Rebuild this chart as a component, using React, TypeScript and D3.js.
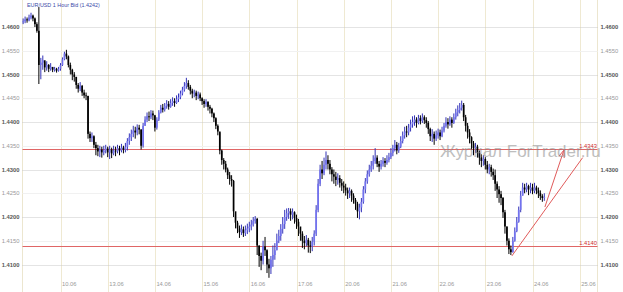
import React from "react";
import * as d3 from "d3";

const W = 623;
const H = 292;

// Prices are stored as pips above BASE (1.4000)
const BASE = 1.4;
const PIP = 0.0001;
const START_HOUR = -19; // first bar: 19 hours before 10.06 00:00
const FIRST_OPEN = 610;

const title = "EUR/USD 1 Hour Bid (1.4242)";
const watermark = "Журнал ForTrader.ru";

const dayLabels = ["10.06", "13.06", "14.06", "15.06", "16.06", "17.06", "20.06", "21.06", "22.06", "23.06", "24.06", "25.06"];
const yTicks = [1.41, 1.415, 1.42, 1.425, 1.43, 1.435, 1.44, 1.445, 1.45, 1.455, 1.46];

const closes = [
  612, 616, 614, 620, 624, 618, 606, 592, 520, 525, 530, 515, 520, 512, 516, 510, 512, 508, 512,
  520, 532, 544, 538, 520, 510, 500, 495, 478, 470, 476, 462, 456, 455, 375, 366, 370, 352, 345, 338, 342, 336, 340, 344,
  336, 342, 334, 340, 338, 345, 340, 346, 342, 348, 360, 368, 375, 382, 378, 388, 384, 350, 392, 405, 412, 410, 418, 414,
  388, 405, 420, 430, 426, 434, 438, 432, 440, 444, 440, 448, 452, 460, 468, 476, 482, 474, 466, 460, 462, 455, 458, 450,
  444, 438, 442, 432, 428, 418, 408, 392, 380, 340, 320, 312, 300, 288, 280, 276, 212, 188, 176, 168, 174, 166, 172, 176,
  180, 184, 192, 196, 140, 118, 108, 138, 130, 100, 92, 110, 120, 130, 150, 160, 175, 185, 200, 208, 212, 205, 210, 198,
  190, 180, 165, 150, 145, 152, 140, 138, 148, 165, 215, 270, 300, 292, 310, 320, 312, 300, 290, 285, 278, 282, 272, 266,
  262, 256, 250, 255, 245, 236, 228, 212, 220, 232, 258, 275, 290, 300, 308, 318, 325, 312, 306, 312, 318, 314, 320, 326,
  335, 345, 352, 340, 348, 360, 372, 380, 378, 388, 395, 400, 405, 398, 408, 402, 410, 404, 398, 385, 370, 375, 365, 372,
  378, 370, 382, 392, 400, 395, 405, 398, 410, 420, 425, 430, 436, 410, 392, 378, 368, 355, 345, 348, 335, 325, 318, 322,
  310, 300, 305, 295, 288, 270, 258, 248, 240, 210, 180, 150, 132, 126, 150, 170, 190, 215, 245, 262, 258, 265, 258, 262,
  255, 262, 256, 250, 244, 240, 242,
];
const highs = [
  618, 622, 620, 626, 630, 626, 620, 610, 642, 535, 540, 526, 528, 522, 524, 515, 516, 514, 516,
  524, 536, 548, 552, 540, 525, 512, 505, 495, 482, 484, 478, 468, 462, 455, 380, 378, 372, 358, 352, 350, 348, 350, 352,
  348, 350, 346, 350, 348, 352, 350, 354, 350, 356, 366, 376, 384, 392, 390, 395, 394, 385, 398, 412, 420, 422, 425, 424,
  415, 410, 425, 436, 438, 440, 446, 444, 448, 452, 450, 456, 460, 466, 474, 484, 493, 488, 478, 470, 468, 466, 464, 462,
  452, 448, 448, 444, 436, 430, 420, 410, 395, 378, 342, 324, 318, 304, 295, 288, 278, 206, 192, 182, 184, 180, 182, 186,
  190, 194, 200, 202, 198, 140, 125, 150, 158, 132, 112, 118, 140, 145, 165, 173, 185, 200, 215, 218, 219, 218, 218, 212,
  205, 196, 178, 170, 160, 162, 156, 150, 158, 172, 225, 280, 310, 318, 325, 338, 330, 320, 305, 300, 295, 292, 288, 280,
  275, 270, 262, 262, 258, 250, 240, 232, 228, 240, 265, 282, 298, 310, 318, 330, 345, 330, 318, 320, 326, 324, 330, 335,
  345, 352, 362, 358, 356, 370, 380, 390, 392, 396, 405, 412, 414, 410, 415, 414, 418, 414, 410, 402, 388, 385, 380, 382,
  386, 384, 390, 398, 410, 408, 412, 410, 418, 428, 435, 440, 445, 440, 415, 398, 385, 370, 360, 356, 352, 340, 332, 330,
  326, 318, 312, 310, 302, 300, 275, 265, 255, 242, 215, 180, 155, 140, 158, 178, 200, 222, 255, 272, 270, 272, 268, 272,
  270, 272, 266, 262, 256, 248, 250,
];
const lows = [
  606, 608, 609, 612, 616, 612, 600, 588, 480, 490, 510, 505, 508, 505, 508, 505, 506, 504, 506,
  508, 518, 530, 532, 515, 500, 488, 485, 470, 462, 465, 455, 450, 446, 365, 358, 358, 345, 330, 328, 326, 325, 330, 334,
  326, 322, 324, 330, 328, 334, 330, 336, 334, 336, 340, 352, 360, 368, 365, 372, 374, 342, 346, 392, 400, 402, 406, 404,
  380, 384, 402, 418, 420, 422, 428, 426, 430, 434, 432, 438, 442, 448, 456, 464, 470, 468, 458, 450, 452, 446, 448, 444,
  436, 430, 432, 424, 418, 410, 400, 385, 372, 332, 310, 300, 294, 280, 268, 264, 200, 176, 166, 156, 162, 158, 160, 164,
  168, 172, 180, 186, 120, 95, 88, 100, 118, 82, 72, 80, 95, 110, 130, 145, 150, 165, 175, 192, 196, 192, 195, 186,
  175, 160, 150, 135, 132, 138, 125, 124, 128, 140, 160, 210, 265, 280, 288, 300, 300, 290, 275, 270, 265, 268, 262, 255,
  250, 245, 238, 240, 232, 228, 215, 198, 195, 210, 228, 250, 270, 285, 295, 300, 312, 305, 295, 300, 306, 305, 310, 315,
  322, 328, 338, 332, 335, 345, 355, 365, 368, 372, 380, 388, 392, 388, 395, 395, 398, 396, 388, 375, 360, 358, 352, 360,
  365, 362, 368, 378, 388, 386, 392, 388, 396, 405, 412, 418, 424, 402, 380, 365, 355, 342, 330, 335, 325, 310, 305, 308,
  300, 292, 290, 285, 278, 255, 240, 230, 225, 198, 165, 140, 122, 120, 125, 148, 168, 188, 210, 245, 250, 252, 246, 250,
  248, 250, 248, 240, 236, 232, 234,
];

// horizontal levels (price, label)
const levelValues = [1.4343, 1.414];
const levelLabels = ["1.4343", "1.4140"];

// trend lines: [hour, price] -> [hour, price]
const trendFromHours = [229.5, 246.3];
const trendFromPrices = [1.4118, 1.4221];
const trendToHours = [265.5, 256];
const trendToPrices = [1.4325, 1.4341];
const trendArrow = [false, true];

export default function App() {
  const x = d3.scaleLinear().domain([0, 24]).range([60.5, 60.5 + 47.2]);
  const y = d3.scaleLinear().domain([1.41, 1.46]).range([264.5, 27]);
  const plotL = 22.5;
  const plotR = 597.5;
  const font = "'Liberation Sans', Arial, sans-serif";
  const snap = (v: number) => Math.round(v) + 0.5;

  const bars = closes.map((c, i) => {
    const o = i === 0 ? FIRST_OPEN : closes[i - 1];
    return {
      h: START_HOUR + i,
      o: BASE + o * PIP,
      c: BASE + c * PIP,
      hi: BASE + highs[i] * PIP,
      lo: BASE + lows[i] * PIP,
    };
  });

  const bw = 1.7;

  return (
    <svg width={W} height={H} style={{ position: "absolute", left: 0, top: 0, background: "#fff" }}>
      <rect x={0} y={0} width={W} height={H} fill="#ffffff" />
      {/* vertical day grid */}
      {dayLabels.map((d, k) => (
        <line key={"vg" + k} x1={snap(x(24 * k))} x2={snap(x(24 * k))} y1={0} y2={H} stroke="#efe9d2" strokeWidth={1} />
      ))}
      <line x1={plotL} x2={plotL} y1={0} y2={H} stroke="#ece6cf" />
      <line x1={plotR} x2={plotR} y1={0} y2={H} stroke="#ece6cf" />
      {/* horizontal grid */}
      {yTicks.map((t, i) => {
        const major = i % 2 === 0;
        return (
          <line
            key={"hg" + i}
            x1={plotL}
            x2={plotR}
            y1={snap(y(t))}
            y2={snap(y(t))}
            stroke={major ? "#c8c8c8" : "#f1f1f1"}
            strokeDasharray={major ? "1,1" : undefined}
          />
        );
      })}
      {/* level lines */}
      {levelValues.map((v, i) => (
        <line key={"lv" + i} x1={plotL} x2={plotR} y1={snap(y(v))} y2={snap(y(v))} stroke="#e06666" strokeWidth={1} />
      ))}
      {/* candles */}
      {bars.map((b, i) => {
        const up = b.c >= b.o;
        const cx = x(b.h);
        const top = y(Math.max(b.o, b.c));
        const bot = y(Math.min(b.o, b.c));
        return (
          <g key={"b" + i}>
            <line x1={cx} x2={cx} y1={y(b.hi)} y2={y(b.lo)} stroke={up ? "#3434b8" : "#000"} strokeWidth={1} />
            <rect
              x={cx - bw / 2}
              y={top}
              width={bw}
              height={Math.max(0.8, bot - top)}
              fill={up ? "#7272ee" : "#000"}
            />
          </g>
        );
      })}
      {/* trend lines */}
      {trendFromHours.map((h, i) => {
        const x1 = x(h), y1 = y(trendFromPrices[i]);
        const x2 = x(trendToHours[i]), y2 = y(trendToPrices[i]);
        const ang = Math.atan2(y1 - y2, x1 - x2);
        const len = 8;
        const a1 = ang + 0.35, a2 = ang - 0.35;
        return (
          <g key={"tl" + i}>
            <line x1={x1} y1={y1} x2={x2} y2={y2} stroke="#e05a5a" strokeWidth={1} />
            {trendArrow[i] && (
              <>
                <line x1={x2} y1={y2} x2={x2 + len * Math.cos(a1)} y2={y2 + len * Math.sin(a1)} stroke="#e05a5a" />
                <line x1={x2} y1={y2} x2={x2 + len * Math.cos(a2)} y2={y2 + len * Math.sin(a2)} stroke="#e05a5a" />
              </>
            )}
          </g>
        );
      })}
      {/* watermark */}
      <text x={440} y={157} fontFamily={font} fontSize={17} fill="#8a8a8a" opacity={0.55}>
        {watermark}
      </text>
      {/* level labels */}
      {levelValues.map((v, i) => (
        <text key={"ll" + i} x={597} y={snap(y(v)) - 1.5} textAnchor="end" fontFamily={font} fontSize={5.8} fill="#d03030">
          {levelLabels[i]}
        </text>
      ))}
      {/* y axis labels */}
      {yTicks.map((t, i) => {
        const major = i % 2 === 0;
        const lbl = t.toFixed(4);
        return (
          <g key={"yl" + i}>
            <text x={19.5} y={y(t)} dy="0.35em" textAnchor="end" fontFamily={font} fontSize={5.8}
              fontWeight={major ? "bold" : "normal"} fill={major ? "#555" : "#999"}>{lbl}</text>
            <text x={600.5} y={y(t)} dy="0.35em" textAnchor="start" fontFamily={font} fontSize={5.8}
              fontWeight={major ? "bold" : "normal"} fill={major ? "#555" : "#999"}>{lbl}</text>
          </g>
        );
      })}
      {/* date labels */}
      {dayLabels.map((d, k) => (
        <text key={"dl" + k} x={x(24 * k) + 1.5} y={286} fontFamily={font} fontSize={5.8} fill="#999">
          {d}
        </text>
      ))}
      {/* title */}
      <text x={27} y={7} fontFamily={font} fontSize={5.4} fill="#3a4aa8">
        {title}
      </text>
    </svg>
  );
}
